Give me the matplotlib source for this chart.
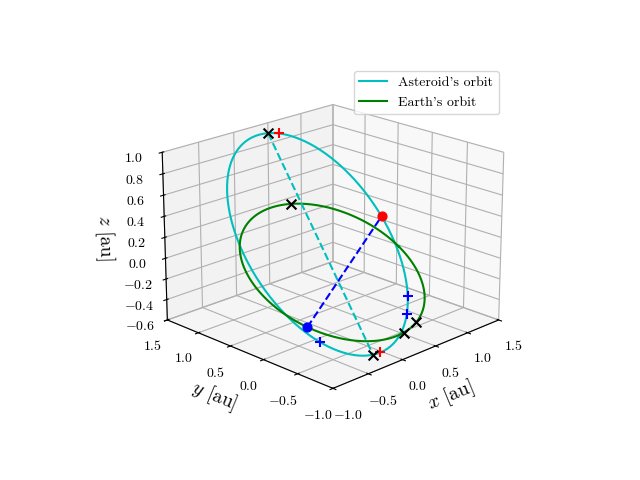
import numpy as np
import matplotlib
matplotlib.use("Agg")
import matplotlib.pyplot as plt

plt.rcParams["font.family"] = "serif"
plt.rcParams["font.serif"] = ["cmr10"]
plt.rcParams["mathtext.fontset"] = "cm"
plt.rcParams["axes.formatter.use_mathtext"] = True
plt.rcParams["axes.unicode_minus"] = False

# Orbital elements (au, deg), in the plotted (equatorial) frame
AST_A, AST_E, AST_I, AST_OMEGA, AST_W = 1.2, 0.25, 46.0, 12.0, 258.0
EARTH_R = 1.0
OBLIQUITY = 23.44

# marker positions: asteroid true anomalies (deg) and Earth longitudes (deg)
AST_BLACK_X = [180.0, 0.0]
AST_RED_PLUS = [174.0, 8.0]
AST_BLUE_PLUS = [55.0, 68.0, 315.0]
AST_RED_DOT = [113.0]
EARTH_BLACK_X = [75.0, 276.0, 291.0]
EARTH_BLUE_DOT = [212.0]


def ast_pos(nu_deg):
    nu = np.radians(nu_deg)
    i, O, w = np.radians([AST_I, AST_OMEGA, AST_W])
    r = AST_A * (1 - AST_E ** 2) / (1 + AST_E * np.cos(nu))
    u = w + nu
    x = r * (np.cos(O) * np.cos(u) - np.sin(O) * np.sin(u) * np.cos(i))
    y = r * (np.sin(O) * np.cos(u) + np.cos(O) * np.sin(u) * np.cos(i))
    z = r * np.sin(u) * np.sin(i)
    return x, y, z


def earth_pos(lon_deg):
    lon = np.radians(lon_deg)
    eps = np.radians(OBLIQUITY)
    x = EARTH_R * np.cos(lon)
    y0 = EARTH_R * np.sin(lon)
    return x, y0 * np.cos(eps), y0 * np.sin(eps)


fig = plt.figure(figsize=(6.4, 4.8))
ax = fig.add_subplot(projection="3d")
ax.view_init(elev=20, azim=-135)

nu = np.linspace(0, 360, 400)
ax.plot(*ast_pos(nu), color="c", label="Asteroid's orbit")
ax.plot(*earth_pos(nu), color="g", label="Earth's orbit")

ap = np.array(ast_pos(np.array([180.0, 0.0])))
ax.plot(ap[0], ap[1], ap[2], "c--")
bd = np.array(earth_pos(np.array(EARTH_BLUE_DOT)))
rd = np.array(ast_pos(np.array(AST_RED_DOT)))
ax.plot([bd[0, 0], rd[0, 0]], [bd[1, 0], rd[1, 0]], [bd[2, 0], rd[2, 0]], "b--")

ax.scatter(*ast_pos(np.array(AST_RED_DOT)), color="r", s=40, depthshade=False)
ax.scatter(*earth_pos(np.array(EARTH_BLUE_DOT)), color="b", s=40, depthshade=False)
ax.scatter(*ast_pos(np.array(AST_BLACK_X)), color="k", marker="x", s=50, linewidths=1.5, depthshade=False)
ax.scatter(*earth_pos(np.array(EARTH_BLACK_X)), color="k", marker="x", s=50, linewidths=1.5, depthshade=False)
ax.scatter(*ast_pos(np.array(AST_RED_PLUS)), color="r", marker="+", s=60, linewidths=1.5, depthshade=False)
ax.scatter(*ast_pos(np.array(AST_BLUE_PLUS)), color="b", marker="+", s=60, linewidths=1.5, depthshade=False)

ax.set_xlim(-1.0, 1.5)
ax.set_ylim(-1.0, 1.5)
ax.set_zlim(-0.6, 1.0)
ax.set_xticks([-1.0, -0.5, 0.0, 0.5, 1.0, 1.5])
ax.set_yticks([-1.0, -0.5, 0.0, 0.5, 1.0, 1.5])
ax.set_zticks(np.arange(-0.6, 1.01, 0.2))
ax.set_xlabel(r"$x$ [au]", fontsize=14)
ax.set_ylabel(r"$y$ [au]", fontsize=14)
ax.set_zlabel(r"$z$ [au]", fontsize=14)
ax.legend(loc="upper right", bbox_to_anchor=(0.79, 0.867), bbox_transform=fig.transFigure)

fig.savefig("out.png", dpi=100)
